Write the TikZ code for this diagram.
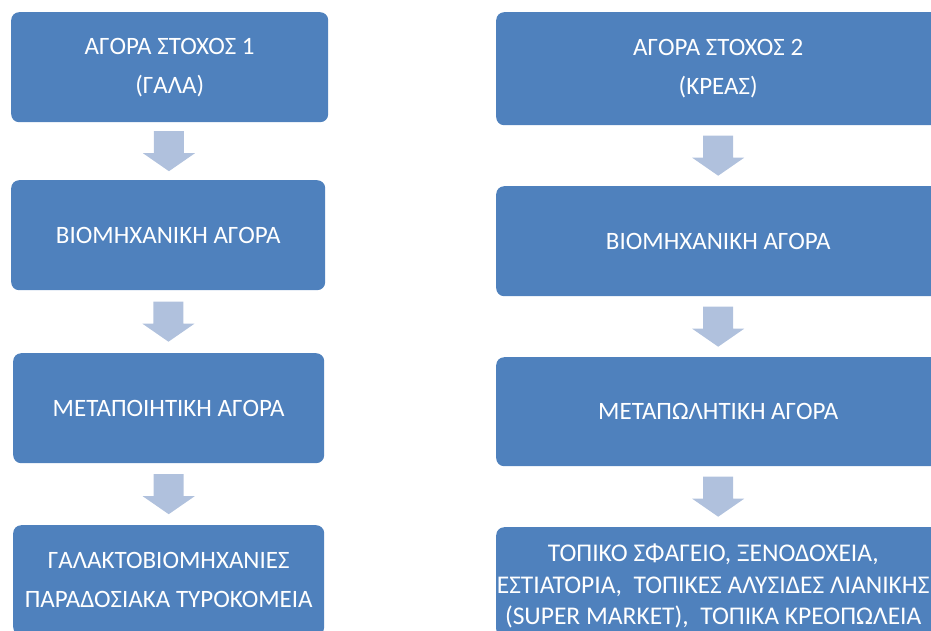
\documentclass[tikz,border=0pt]{standalone}
\usepackage{fontspec}
\setmainfont{Carlito}
\usetikzlibrary{calc}
\definecolor{boxblue}{HTML}{4F81BD}
\definecolor{arrowblue}{HTML}{B0C1DD}
\tikzset{
  boxtext/.style={text=white, align=center, font=\fontsize{25}{39}\selectfont, inner sep=0pt},
  flowbox/.style={boxtext, fill=boxblue, rounded corners=8pt, anchor=north west, minimum height=110pt},
  leftbox/.style={flowbox, minimum width=315pt},
  rightbox/.style={flowbox, minimum width=444pt},
  flowarrow/.style={fill=arrowblue}
}
\newcommand\blockarrow[2]{%
  \path let \p1=($(#1.south)!0.5!(#2.north)$) in
    [flowarrow] (\x1-15pt,\y1+20pt) -- (\x1+15pt,\y1+20pt) -- (\x1+15pt,\y1-2pt)
    -- (\x1+26pt,\y1-2pt) -- (\x1,\y1-20pt) -- (\x1-26pt,\y1-2pt)
    -- (\x1-15pt,\y1-2pt) -- cycle;}
\begin{document}
\begin{tikzpicture}[x=1pt,y=-1pt]
\useasboundingbox (0,0) rectangle (931,630);
\clip (0,0) rectangle (931,630);
% left column
\node[leftbox, minimum width=317pt] (L1) at (11,12) {ΑΓΟΡΑ ΣΤΟΧΟΣ 1\\(ΓΑΛΑ)};
\node[leftbox, minimum width=314pt] (L2) at (11,180) {ΒΙΟΜΗΧΑΝΙΚΗ ΑΓΟΡΑ};
\node[leftbox, minimum width=311pt] (L3) at (13,353) {ΜΕΤΑΠΟΙΗΤΙΚΗ ΑΓΟΡΑ};
\node[leftbox, minimum width=311pt] (L4) at (13,525) {ΓΑΛΑΚΤΟΒΙΟΜΗΧΑΝΙΕΣ\\ΠΑΡΑΔΟΣΙΑΚΑ ΤΥΡΟΚΟΜΕΙΑ};
% right column
\node[rightbox, minimum height=113pt] (R1) at (496,12) {ΑΓΟΡΑ ΣΤΟΧΟΣ 2\\(ΚΡΕΑΣ)};
\node[rightbox] (R2) at (496,186) {ΒΙΟΜΗΧΑΝΙΚΗ ΑΓΟΡΑ};
\node[rightbox, minimum height=109pt] (R3) at (496,357) {ΜΕΤΑΠΩΛΗΤΙΚΗ ΑΓΟΡΑ};
\node[rightbox, label={[boxtext, font=\fontsize{25.5}{31.5}\selectfont, xshift=-5pt, yshift=-4pt]center:ΤΟΠΙΚΟ ΣΦΑΓΕΙΟ, ΞΕΝΟΔΟΧΕΙΑ,\\ΕΣΤΙΑΤΟΡΙΑ,\ \ ΤΟΠΙΚΕΣ ΑΛΥΣΙΔΕΣ ΛΙΑΝΙΚΗΣ\\(SUPER MARKET),\ \ ΤΟΠΙΚΑ ΚΡΕΟΠΩΛΕΙΑ}] (R4) at (496,527) {};
% arrows
\blockarrow{L1}{L2}
\blockarrow{L2}{L3}
\blockarrow{L3}{L4}
\blockarrow{R1}{R2}
\blockarrow{R2}{R3}
\blockarrow{R3}{R4}
\end{tikzpicture}
\end{document}
